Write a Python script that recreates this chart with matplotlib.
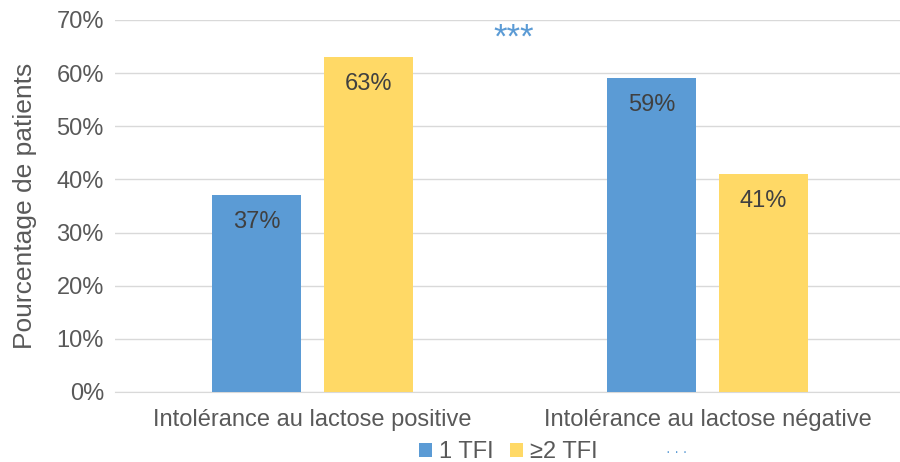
import matplotlib.pyplot as plt
import numpy as np

plt.rcParams['font.family'] = ['Liberation Sans', 'DejaVu Sans']

categories = ["Intolérance au lactose positive", "Intolérance au lactose négative"]
series_names = ["1 TFI", "≥2 TFI"]
one_tfi = [37, 59]
two_tfi = [63, 41]
yticks = [0, 10, 20, 30, 40, 50, 60, 70]

blue = '#5B9BD5'
yellow = '#FFD966'
grey = '#595959'

fig = plt.figure(figsize=(9, 4.62), dpi=100)
ax = fig.add_axes([115/900, 70/462, 790/900, 372/462])

x = np.arange(len(categories))
w = 0.225
off = 0.142
b1 = ax.bar(x - off, one_tfi, w, color=blue, label=series_names[0], zorder=3)
b2 = ax.bar(x + off, two_tfi, w, color=yellow, label=series_names[1], zorder=3)

# etiquettes de valeur dans le haut des barres
for bars, vals in [(b1, one_tfi), (b2, two_tfi)]:
    for rect, v in zip(bars, vals):
        ax.text(rect.get_x() + rect.get_width() / 2, v - 5.0, f"{v}%",
                ha='center', va='center', fontsize=17, color='#404040', zorder=4)

ax.set_xlim(-0.5, 1.5)
ax.set_ylim(0, 70)
ax.set_yticks(yticks)
ax.set_yticklabels([f"{t}%" for t in yticks])
ax.set_xticks(x)
ax.set_xticklabels(categories)
ax.tick_params(axis='both', length=0, labelsize=17, colors=grey)
ax.tick_params(axis='x', pad=12)
ax.tick_params(axis='y', pad=8)
ax.grid(axis='y', color='#D9D9D9', linewidth=1, zorder=0)
for s in ['top', 'right', 'left']:
    ax.spines[s].set_visible(False)
ax.spines['bottom'].set_color('#D9D9D9')
ax.set_ylabel("Pourcentage de patients", fontsize=19, color=grey, labelpad=14)

ax.text(0.51, 66.5, "***", ha='center', va='center', fontsize=25, color=blue)
fig.text(677/900, 10/462, "· · ·", ha='center', va='center', fontsize=10, color=blue)

fig.legend(handles=[b1, b2], loc='center', bbox_to_anchor=(508/900, 10/462),
           ncol=2, frameon=False, fontsize=17, handlelength=0.55, handleheight=0.55,
           handletextpad=0.3, columnspacing=0.7, labelcolor=grey)

fig.savefig('out.png', dpi=100)
